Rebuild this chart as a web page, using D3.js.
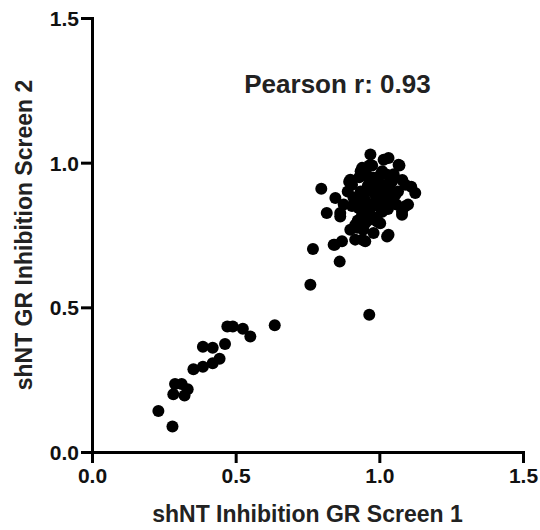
<!DOCTYPE html>
<html>
<head>
<meta charset="utf-8">
<script src="https://cdn.jsdelivr.net/npm/d3@7"></script>
<style>
  body { margin: 0; background: #fff; }
  text { font-family: Arial, "Liberation Sans", sans-serif; font-weight: bold; }
</style>
</head>
<body>
<script>
// values
const screen1 = [
  0.231, 0.280, 0.289, 0.312, 0.283, 0.322, 0.333, 0.353, 0.386, 0.420,
  0.444, 0.386, 0.420, 0.463, 0.471, 0.490, 0.525, 0.551, 0.636, 0.760,
  0.769, 0.841, 0.862, 0.965,
  0.798, 0.817, 0.845, 0.870, 0.864, 0.899, 0.916, 0.940, 0.944, 0.951,
  0.980, 1.003, 1.027, 1.079, 1.090, 1.060, 0.969, 1.015, 0.940, 0.899,
  0.905, 0.847, 0.876, 0.864, 0.928, 0.916, 0.992, 1.003, 1.009, 0.980,
  0.957, 0.945, 0.969, 1.027, 1.027, 1.067, 1.032, 1.125, 1.090, 1.100,
  1.079, 1.032, 1.044, 1.056, 1.111, 1.070, 0.923, 0.895, 0.955, 0.975,
  0.990, 1.010, 1.040, 0.960, 0.985, 1.000, 1.020, 0.950, 0.935, 0.965,
  1.050, 0.995, 0.975, 1.015, 0.930, 0.960, 1.080, 0.910, 0.985, 1.005,
  0.920, 0.940, 0.960, 0.980, 1.000, 1.020, 1.040, 0.950, 0.970, 0.990,
  1.030, 0.905, 0.925, 0.945, 1.065, 0.965, 1.010, 0.890, 0.935, 1.045
];
const screen2 = [
  0.142, 0.088, 0.235, 0.235, 0.200, 0.195, 0.217, 0.286, 0.295, 0.307,
  0.322, 0.364, 0.360, 0.373, 0.434, 0.434, 0.426, 0.399, 0.438, 0.578,
  0.702, 0.716, 0.658, 0.474,
  0.910, 0.826, 0.716, 0.728, 0.826, 0.768, 0.734, 0.734, 0.768, 0.728,
  0.757, 0.791, 0.745, 0.820, 0.849, 0.855, 1.028, 1.010, 0.982, 0.941,
  0.924, 0.878, 0.855, 0.814, 0.843, 0.785, 0.797, 0.843, 0.918, 0.948,
  0.901, 0.866, 0.820, 0.958, 0.878, 0.993, 1.016, 0.895, 0.924, 0.855,
  0.831, 0.751, 0.935, 0.889, 0.917, 0.990, 0.775, 0.934, 0.960, 0.990,
  0.940, 0.970, 0.905, 0.920, 0.890, 0.930, 0.860, 0.870, 0.900, 0.945,
  0.960, 0.880, 0.850, 0.900, 0.950, 0.800, 0.940, 0.880, 0.915, 0.960,
  0.880, 0.820, 0.840, 0.860, 0.880, 0.920, 0.870, 0.790, 0.910, 0.810,
  0.840, 0.850, 0.800, 0.880, 0.900, 0.990, 0.830, 0.900, 0.970, 0.880
];
const ticks = [0.0, 0.5, 1.0, 1.5];
const xTitle = "shNT Inhibition GR Screen 1";
const yTitle = "shNT GR Inhibition Screen 2";
const note = "Pearson r: 0.93";

const width = 540;
const height = 530;
const margin = { top: 18, right: 17, bottom: 78, left: 92 };

const svg = d3
  .select("body")
  .append("svg")
  .attr("width", width)
  .attr("height", height);

const x = d3.scaleLinear().domain([0, 1.5]).range([margin.left, width - margin.right]);
const y = d3.scaleLinear().domain([0, 1.5]).range([height - margin.bottom, margin.top]);

const xAxis = svg
  .append("g")
  .attr("transform", `translate(0,${y(0)})`)
  .call(d3.axisBottom(x).tickValues(ticks).tickFormat(d3.format(".1f")).tickSize(11).tickPadding(5));

const yAxis = svg
  .append("g")
  .attr("transform", `translate(${x(0)},0)`)
  .call(d3.axisLeft(y).tickValues(ticks).tickFormat(d3.format(".1f")).tickSize(11).tickPadding(2));

[xAxis, yAxis].forEach((g) => {
  g.select(".domain").attr("stroke", "#000").attr("stroke-width", 3);
  g.selectAll(".tick line").attr("stroke", "#000").attr("stroke-width", 3);
  g.selectAll(".tick text")
    .attr("fill", "#111")
    .style("font-size", "21px")
    .style("font-family", "Arial, 'Liberation Sans', sans-serif")
    .style("font-weight", "bold");
});
yAxis.selectAll(".tick text").attr("dy", "0.36em");

svg
  .selectAll("circle")
  .data(screen1.map((v, i) => [v, screen2[i]]))
  .enter()
  .append("circle")
  .attr("cx", (d) => x(d[0]))
  .attr("cy", (d) => y(d[1]))
  .attr("r", 6)
  .attr("fill", "#000");

svg
  .append("text")
  .attr("x", (x(0) + x(1.5)) / 2)
  .attr("y", 522)
  .attr("text-anchor", "middle")
  .attr("fill", "#222")
  .style("font-size", "23px")
  .text(xTitle);

svg
  .append("text")
  .attr("transform", `translate(32,${(y(0) + y(1.5)) / 2}) rotate(-90)`)
  .attr("text-anchor", "middle")
  .attr("fill", "#222")
  .style("font-size", "23px")
  .text(yTitle);

svg
  .append("text")
  .attr("x", x(0.53))
  .attr("y", y(1.242))
  .attr("fill", "#222")
  .style("font-size", "26px")
  .text(note);
</script>
</body>
</html>
